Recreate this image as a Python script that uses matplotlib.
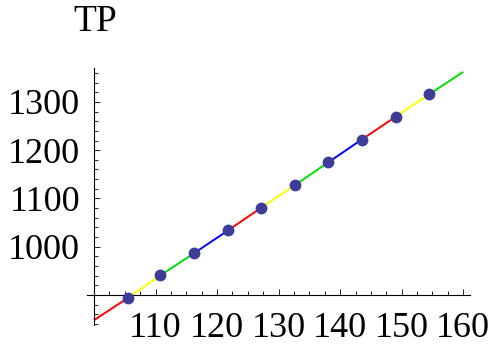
import matplotlib.pyplot as plt
from matplotlib.ticker import MultipleLocator, FixedLocator

# data
pt_x = [105.5, 110.8, 116.3, 121.8, 127.2, 132.7, 138.1, 143.5, 149.0, 154.5]
pt_y = [894, 941, 987, 1034, 1081, 1128, 1175, 1222, 1269, 1316]
line_x = [100.0] + pt_x + [160.0]
line_y = [848] + pt_y + [1362]
seg_colors = ["red", "yellow", "#00dd00", "blue"]

x_ticks = [110, 120, 130, 140, 150, 160]
y_ticks = [1000, 1100, 1200, 1300]

plt.rcParams["font.family"] = ["Liberation Serif", "DejaVu Serif"]

fig = plt.figure(figsize=(4.91, 3.51), dpi=100)
ax = fig.add_axes([0.1772, 0.0741, 0.780, 0.732])

# coloured line, one colour per segment
for i in range(len(line_x) - 1):
    ax.plot(line_x[i:i + 2], line_y[i:i + 2], color=seg_colors[i % 4],
            lw=1.4, solid_capstyle="butt", zorder=2)

ax.plot(pt_x, pt_y, "o", color="#3d3d99", ms=8.5, mec="none", zorder=3)

ax.set_xlim(98.86, 161.1)
ax.set_ylim(838, 1370)

# axes crossing at (100, 900)
for s in ["top", "right"]:
    ax.spines[s].set_visible(False)
ax.spines["left"].set_position(("data", 100))
ax.spines["bottom"].set_position(("data", 900))
ax.spines["left"].set_linewidth(0.8)
ax.spines["bottom"].set_linewidth(0.8)

ax.xaxis.set_major_locator(FixedLocator(x_ticks))
ax.xaxis.set_minor_locator(MultipleLocator(2.5))
ax.yaxis.set_major_locator(FixedLocator(y_ticks))
ax.yaxis.set_minor_locator(MultipleLocator(20))

ax.tick_params(which="both", direction="in", labelsize=26, width=0.6)
ax.tick_params(which="major", length=4.5)
ax.tick_params(which="minor", length=3)
ax.tick_params(axis="x", which="major", pad=12)
ax.tick_params(axis="y", which="major", pad=10)

fig.text(95 / 491, 1 - 22 / 351, "TP", fontsize=27, ha="center", va="center")

fig.savefig("out.png", dpi=100)
